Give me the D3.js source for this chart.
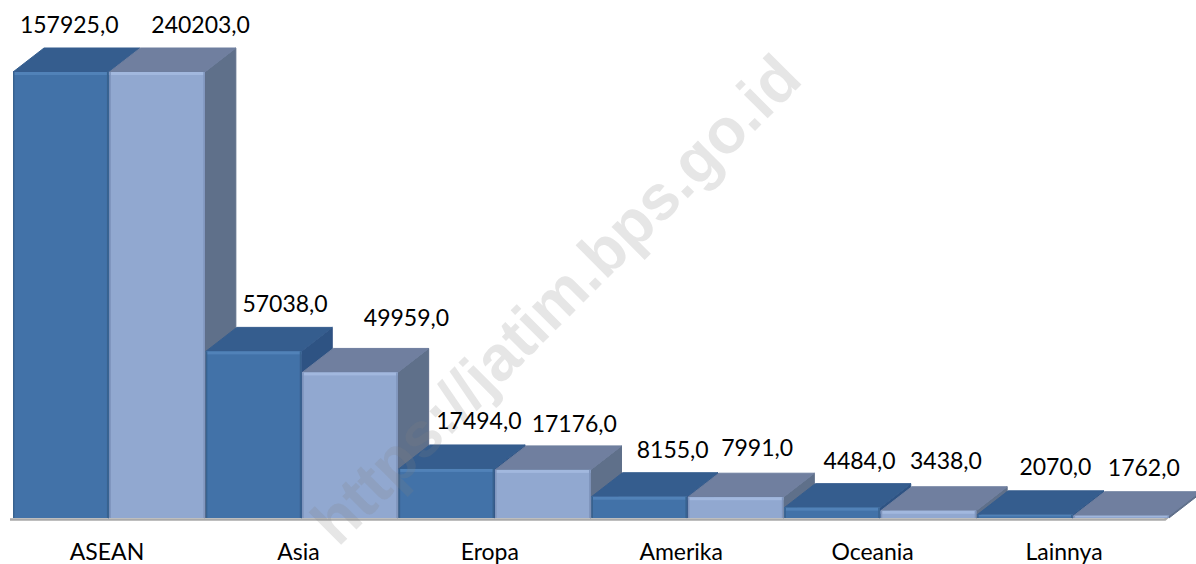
<!DOCTYPE html>
<html><head><meta charset="utf-8">
<style>html,body{margin:0;padding:0;background:#fff}svg{display:block}</style>
<script src="https://cdn.jsdelivr.net/npm/d3@7"></script></head>
<body><div id="chart"></div>
<script>
const categories = ["ASEAN","Asia","Eropa","Amerika","Oceania","Lainnya"];
const seriesA = [157925,57038,17494,8155,4484,2070];
const seriesB = [240203,49959,17176,7991,3438,1762];
const watermark = "https://jatim.bps.go.id";

// layout only
const W=1196,H=564, base=518, depthX=31, depthY=24;
const nudgeX=[[8,43],[31,56],[32,31],[33,21],[27,17],[30,22]];
const nudgeY=[[-15,-15],[-15,-22],[-16,-14],[-15,-17],[-15,-18],[-16,-16]];
const palette=[
 {front:"#4272a8",hi:"#5182b8",edge:"#38628f",top:"#355d8e",side:"#2f5283"},
 {front:"#91a8d0",hi:"#a2b8de",edge:"#7f95bd",top:"#6f7f9f",side:"#5f6f8a"}];

const svg=d3.select("#chart").append("svg").attr("width",W).attr("height",H);
const defs=svg.append("defs");
defs.append("filter").attr("id","soft").append("feGaussianBlur").attr("stdDeviation",0.45);
const x0=d3.scaleBand().domain(categories).range([13,1170]);
const x1=d3.scaleBand().domain([0,1]).range([0,x0.bandwidth()]);
const y=d3.scaleLinear().domain([1000,151000]).range([base,72]).clamp(true);
const xLabel=d3.scalePoint().domain(categories).range([107,1064]);

const marks=svg.append("g").attr("filter","url(#soft)");
// floor
marks.append("path").attr("fill","none").attr("stroke","#a9a9a9").attr("stroke-width",2.5).attr("stroke-linejoin","round")
 .attr("d",d3.line()([[10,519.5],[x0.range()[1]-5,519.5],[x0.range()[1]+26,492]]));

categories.forEach((c,i)=>{
 [seriesA[i],seriesB[i]].forEach((v,s)=>{
  const p=palette[s], gap=1, xl=x0(c)+x1(s), w=x1.bandwidth()-gap, t=y(v), g=marks.append("g");
  const poly=(pts,fill)=>g.append("polygon").attr("points",pts.map(q=>q.join(",")).join(" "))
     .attr("fill",fill).attr("stroke",fill).attr("stroke-width",1).attr("stroke-linejoin","round");
  poly([[xl+w,t],[xl+w+depthX,t-depthY],[xl+w+depthX,base-depthY],[xl+w,base]],p.side);
  poly([[xl,t],[xl+w,t],[xl+w+depthX,t-depthY],[xl+depthX,t-depthY]],p.top);
  g.append("rect").attr("x",xl).attr("y",t).attr("width",w).attr("height",base-t).attr("fill",p.front);
  const bevel=Math.min(3,(base-t)/2);
  g.append("rect").attr("x",xl).attr("y",t).attr("width",w).attr("height",bevel).attr("fill",p.hi);
  g.append("rect").attr("x",xl).attr("y",t).attr("width",1.5).attr("height",base-t).attr("fill",p.edge);
  g.append("rect").attr("x",xl+w-1.5).attr("y",t).attr("width",1.5).attr("height",base-t).attr("fill",p.edge);
 });
});

svg.append("text").attr("transform","translate(338,548) rotate(-45)")
 .attr("font-family","'Liberation Sans', Arial, sans-serif").attr("font-weight","bold").attr("font-size",63.5)
 .attr("fill","#808080").attr("fill-opacity",0.2).text(watermark);

const labels=svg.append("g").attr("font-family","Lato, 'Open Sans', sans-serif").attr("font-size",23).attr("fill","#000").attr("text-anchor","middle");
categories.forEach((c,i)=>{
 [seriesA[i],seriesB[i]].forEach((v,s)=>{
  labels.append("text")
   .attr("x",x0(c)+x1(s)+x1.bandwidth()/2+nudgeX[i][s])
   .attr("y",y(v)-depthY+nudgeY[i][s])
   .text(d3.format(".1f")(v).replace(".",","));
 });
 labels.append("text").attr("x",xLabel(c)).attr("y",560).text(c);
});
</script></body></html>
